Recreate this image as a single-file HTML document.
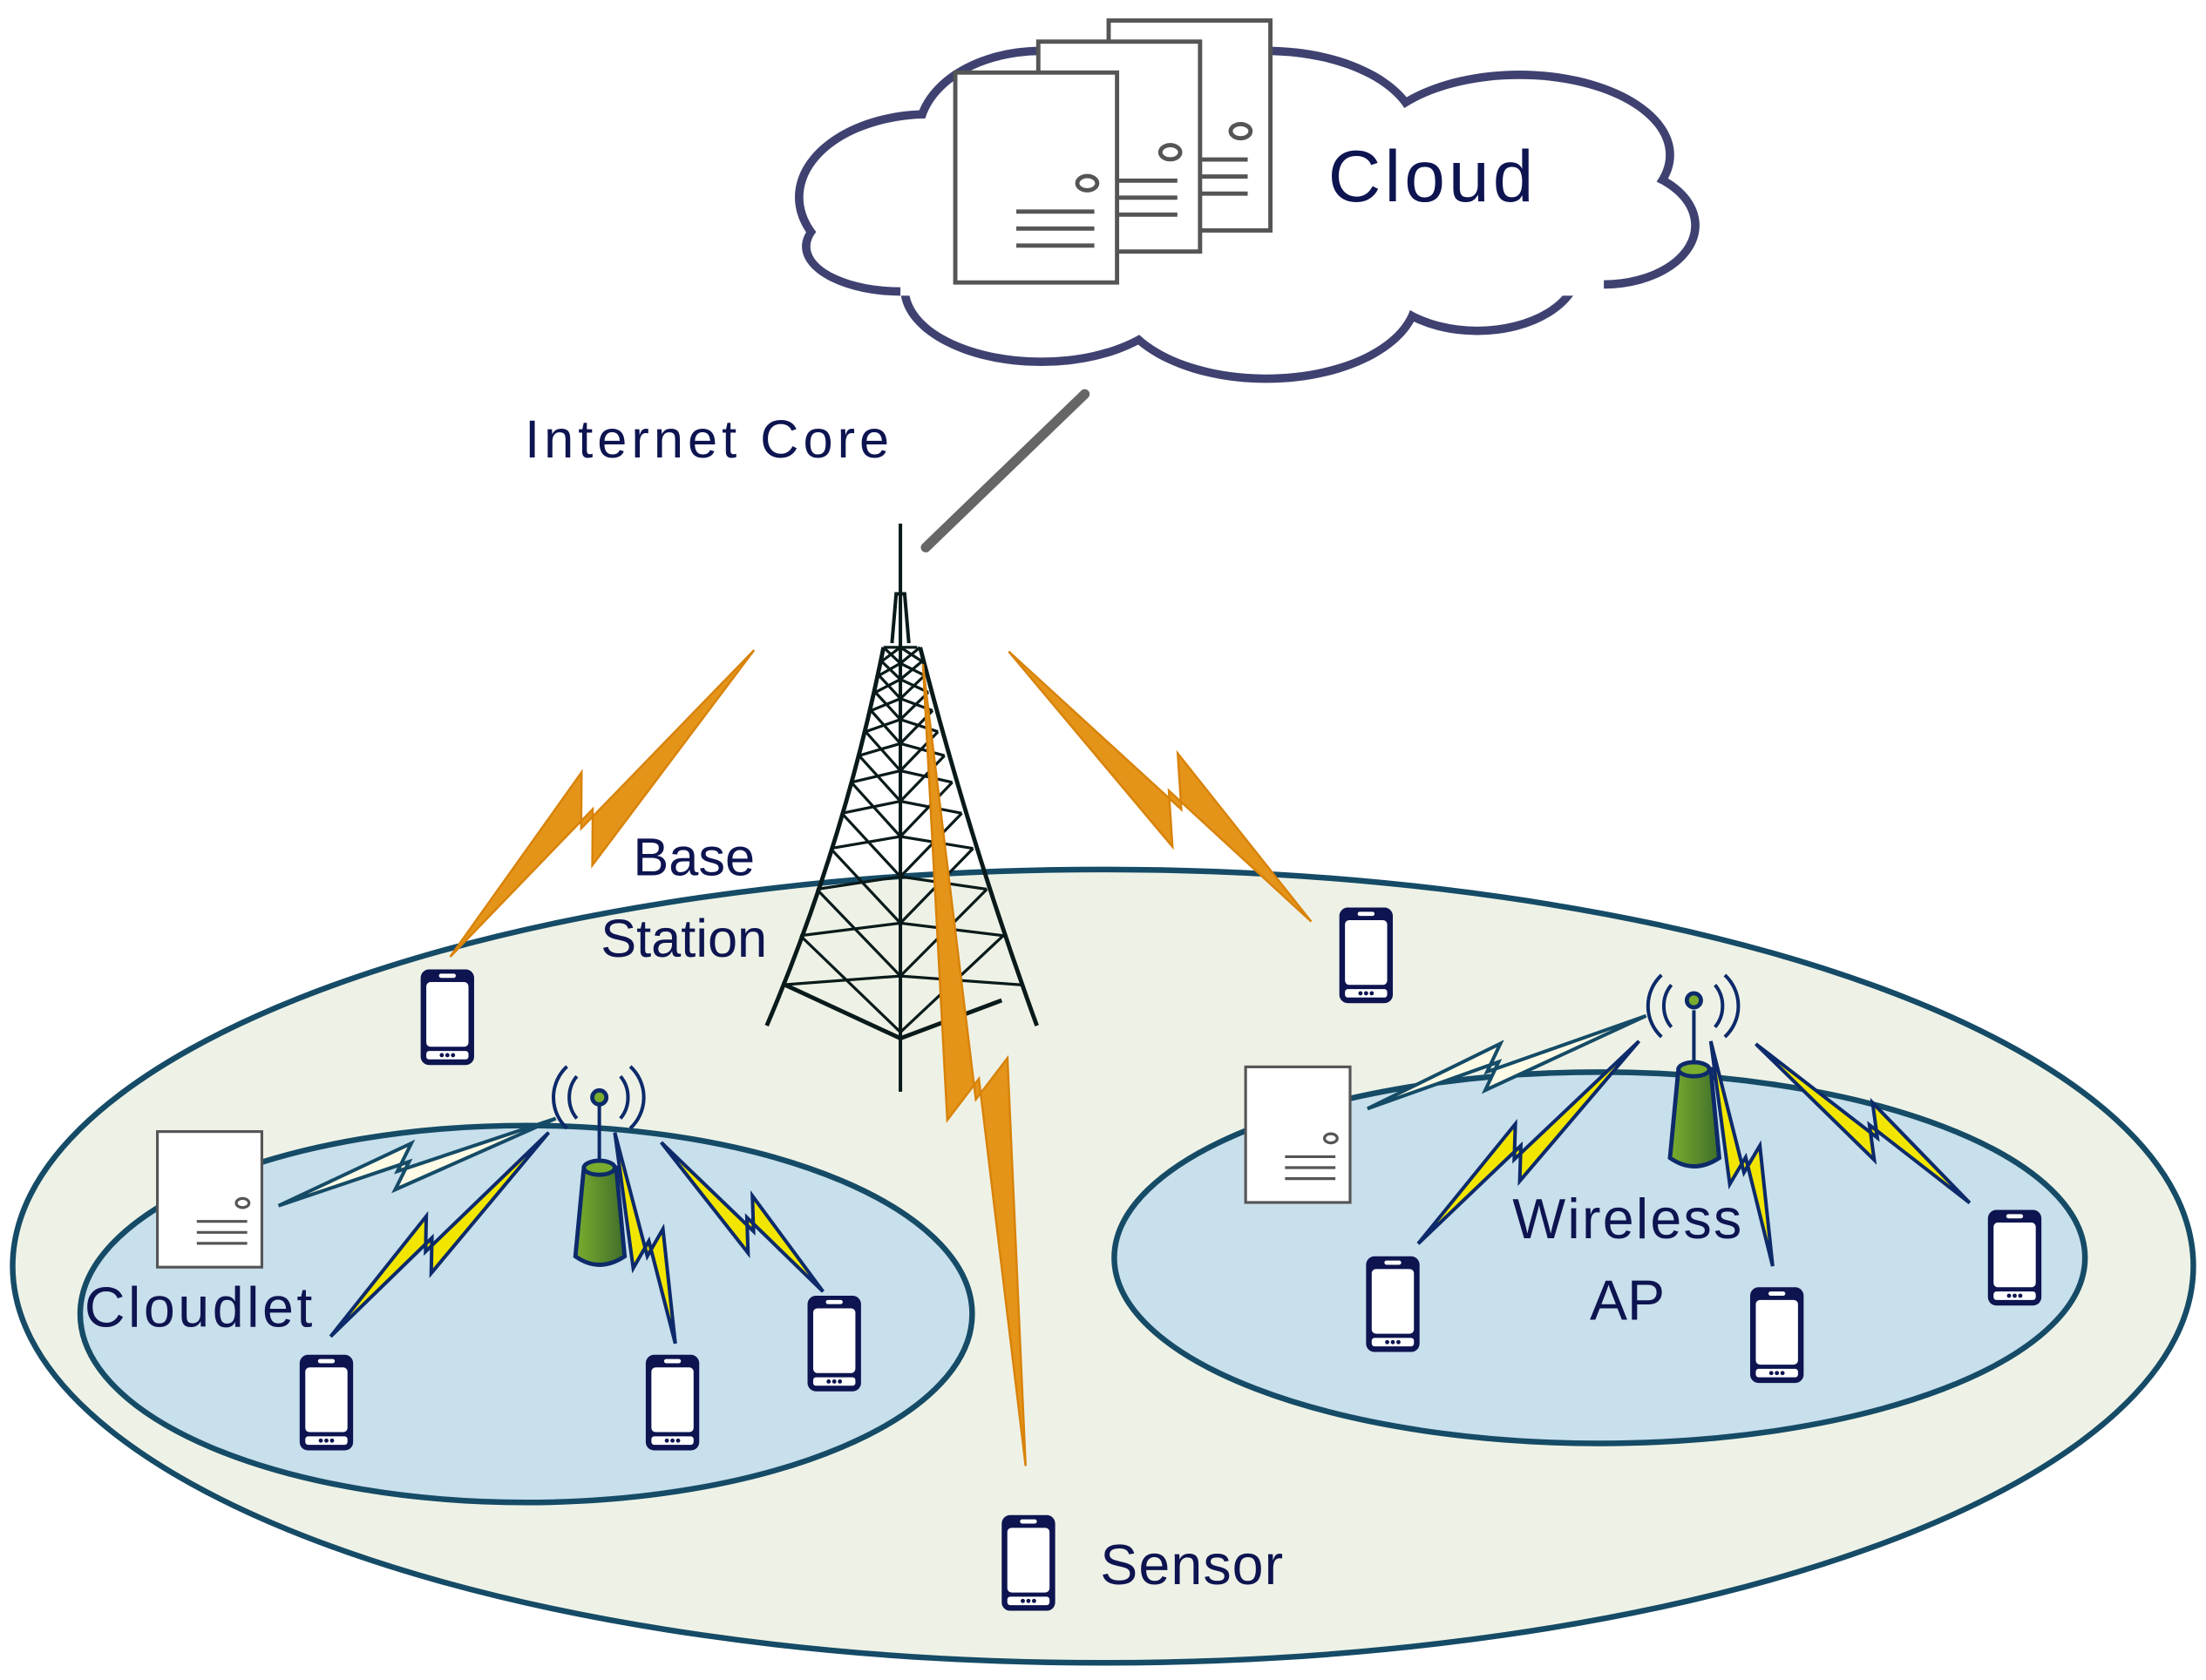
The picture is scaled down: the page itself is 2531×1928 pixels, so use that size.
<!DOCTYPE html>
<html><head><meta charset="utf-8"><style>
html,body{margin:0;padding:0;background:#fff;}
svg{display:block}
text{font-family:"Liberation Sans",sans-serif;fill:#0d1450}
</style></head><body>
<svg id="s" width="2531" height="1928" viewBox="0 0 1568 1194" xmlns="http://www.w3.org/2000/svg">
<defs>
<symbol id="ph" viewBox="0 0 42 72">
<rect x="2" y="2" width="38" height="68" rx="6" fill="#0d1450"/>
<rect x="6" y="11" width="30" height="46" rx="3" fill="#fff"/>
<rect x="15" y="5" width="12" height="3" rx="1.5" fill="#fff"/>
<rect x="6" y="60" width="30" height="6" rx="2" fill="#fff"/>
<circle cx="17" cy="63" r="1.5" fill="#0d1450"/><circle cx="21" cy="63" r="1.5" fill="#0d1450"/><circle cx="25" cy="63" r="1.5" fill="#0d1450"/>
</symbol>
<symbol id="sv" viewBox="0 0 118 152">
<rect x="2" y="2" width="114" height="148" fill="#fff" stroke="#555" stroke-width="3"/>
<ellipse cx="95" cy="80" rx="7" ry="5" fill="none" stroke="#555" stroke-width="3"/>
<line x1="45" y1="100" x2="100" y2="100" stroke="#555" stroke-width="3"/>
<line x1="45" y1="112" x2="100" y2="112" stroke="#555" stroke-width="3"/>
<line x1="45" y1="124" x2="100" y2="124" stroke="#555" stroke-width="3"/>
</symbol>
<linearGradient id="gr" x1="0" x2="1"><stop offset="0" stop-color="#7aad2e"/><stop offset="1" stop-color="#3f6e2a"/></linearGradient>
</defs>
<!-- cloud -->
<g fill="#3f4270">
<ellipse cx="660" cy="140" rx="95" ry="62"/><ellipse cx="740" cy="95" rx="90" ry="62"/><ellipse cx="900" cy="95" rx="110" ry="62"/>
<ellipse cx="1080" cy="110" rx="110" ry="60"/><ellipse cx="1140" cy="160" rx="68" ry="45"/><ellipse cx="1050" cy="190" rx="75" ry="48"/>
<ellipse cx="900" cy="210" rx="110" ry="62"/><ellipse cx="740" cy="205" rx="100" ry="55"/><ellipse cx="640" cy="175" rx="70" ry="35"/>
</g>
<g fill="#fff">
<ellipse cx="660" cy="140" rx="89" ry="56"/><ellipse cx="740" cy="95" rx="84" ry="56"/><ellipse cx="900" cy="95" rx="104" ry="56"/>
<ellipse cx="1080" cy="110" rx="104" ry="54"/><ellipse cx="1140" cy="160" rx="62" ry="39"/><ellipse cx="1050" cy="190" rx="69" ry="42"/>
<ellipse cx="900" cy="210" rx="104" ry="56"/><ellipse cx="740" cy="205" rx="94" ry="49"/><ellipse cx="640" cy="175" rx="64" ry="29"/>
<rect x="640" y="100" width="500" height="110"/>
</g>
<use href="#sv" x="786" y="12" width="119" height="154"/>
<use href="#sv" x="736" y="27" width="119" height="154"/>
<use href="#sv" x="677" y="49" width="119" height="154"/>
<text x="944" y="143" font-size="52" textLength="146">Cloud</text>
<text x="373" y="325" font-size="38" textLength="259">Internet Core</text>
<line x1="658" y1="389" x2="771" y2="280" stroke="#666" stroke-width="7" stroke-linecap="round"/>
<!-- ellipses -->
<ellipse cx="784" cy="900" rx="775" ry="282" fill="#eef2e6" stroke="#154b66" stroke-width="4"/>
<ellipse cx="374" cy="934" rx="317" ry="134" fill="#c8dfec" stroke="#154b66" stroke-width="4"/>
<ellipse cx="1137" cy="894" rx="345" ry="132" fill="#c8dfec" stroke="#154b66" stroke-width="4"/>
<!-- tower -->
<g stroke="#0a1a1a" fill="none" stroke-width="2">
<line x1="640" y1="372" x2="640" y2="776" stroke-width="2.5"/>
<path d="M634 457 L637 422 L643 422 L646 457" stroke-width="2.5"/>
<path d="M628 460 Q600 600 545 729" stroke-width="3"/>
<path d="M654 460 Q690 600 737 729" stroke-width="3"/>
<path d="M628 460 L652 460"/>
<g id="lat"></g>
<path d="M558 700 L640 738 L712 711" stroke-width="3"/>
</g>
<g id="bolts"></g>
<!-- APs -->
<g stroke="#0d2a6a" stroke-width="2.5" fill="none">
<path d="M410 765 a20 22 0 0 0 0 30 M403 758 a30 30 0 0 0 0 44 M441 765 a20 22 0 0 1 0 30 M448 758 a30 30 0 0 1 0 44"/>
<line x1="426" y1="785" x2="426" y2="828"/>
<path d="M1188 700 a20 22 0 0 0 0 30 M1181 693 a30 30 0 0 0 0 44 M1219 700 a20 22 0 0 1 0 30 M1226 693 a30 30 0 0 1 0 44"/>
<line x1="1204" y1="718" x2="1204" y2="760"/>
</g>
<g stroke="#0d2a6a" stroke-width="3">
<circle cx="426" cy="780" r="5" fill="#7aad2e"/>
<path d="M415 830 L409 893 Q426 905 444 893 L438 830 Z" fill="url(#gr)"/>
<ellipse cx="426" cy="830" rx="11" ry="5" fill="#7aad2e"/>
<circle cx="1204" cy="711" r="5" fill="#7aad2e"/>
<path d="M1193 760 L1187 823 Q1204 835 1222 823 L1216 760 Z" fill="url(#gr)"/>
<ellipse cx="1204" cy="760" rx="11" ry="5" fill="#7aad2e"/>
</g>
<g id="bolts2"></g>
<!-- servers -->
<use href="#sv" x="110" y="803" width="78" height="99"/>
<use href="#sv" x="884" y="757" width="77" height="99"/>
<!-- phones -->
<use href="#ph" x="297" y="687" width="42" height="72"/>
<use href="#ph" x="950" y="643" width="42" height="72"/>
<use href="#ph" x="211" y="961" width="42" height="72"/>
<use href="#ph" x="457" y="961" width="42" height="72"/>
<use href="#ph" x="572" y="919" width="42" height="72"/>
<use href="#ph" x="969" y="891" width="42" height="72"/>
<use href="#ph" x="1242" y="913" width="42" height="72"/>
<use href="#ph" x="1411" y="858" width="42" height="72"/>
<use href="#ph" x="710" y="1075" width="42" height="72"/>
<text x="450" y="622" font-size="38">Base</text>
<text x="427" y="680" font-size="38">Station</text>
<text x="60" y="943" font-size="40" textLength="162">Cloudlet</text>
<text x="1075" y="880" font-size="40" textLength="163">Wireless</text>
<text x="1130" y="938" font-size="40">AP</text>
<text x="782" y="1126" font-size="40" textLength="130">Sensor</text>
</svg>
<script>
var NS="http://www.w3.org/2000/svg";
function el(p,t,a){var e=document.createElementNS(NS,t);for(var k in a)e.setAttribute(k,a[k]);document.getElementById(p).appendChild(e);return e;}
(function(){
 function lx(y){var t=(y-460)/(729-460);return 628-(628-545)*Math.pow(t,1.25);}
 function rx(y){var t=(y-460)/(729-460);return 654+(737-654)*Math.pow(t,1.25);}
 var ys=[460,470,480,492,505,520,537,556,578,603,632,665,700];
 for(var i=0;i<ys.length-1;i++){var a=ys[i],b=ys[i+1];var ca=a+ (a-460)*0.14,cb=b+(b-460)*0.14;
  el("lat","path",{d:"M"+lx(a)+" "+a+" L640 "+cb+" L"+rx(a)+" "+a+" M"+lx(b)+" "+b+" L640 "+ca+" L"+rx(b)+" "+b});}
})();
function bolt(g,ax,ay,bx,by,w,fill,stroke,sw,flip,cf){
 var dx=bx-ax,dy=by-ay,L=Math.hypot(dx,dy),ux=dx/L,uy=dy/L,f=flip?-1:1,nx=-uy*f,ny=ux*f;
 var c=L*(cf||0.55),d=Math.max(5,w*0.3),k=w*1.1;
 var pts=[[0,0],[c+d,-2],[c+d-k,w],[L,0],[c-d,2],[c-d+k,-w]];
 var s=pts.map(function(p){return (ax+ux*p[0]+nx*p[1]).toFixed(1)+","+(ay+uy*p[0]+ny*p[1]).toFixed(1)}).join(" ");
 el(g,"polygon",{points:s,fill:fill,stroke:stroke,"stroke-width":sw,"stroke-linejoin":"miter"});
}
var O="#e39419",OS="#d8820a";
bolt("bolts",536,462,320,680,26,O,OS,1.5,false);
bolt("bolts",717,463,932,655,26,O,OS,1.5,true);
bolt("bolts",656,472,729,1042,24,O,OS,1.5,true,0.53);
var N="#0d2a6a",Y="#f2e600",T="#154b66";
bolt("bolts2",395,795,198,857,14,"#fdfbe6",T,2.5,false);
bolt("bolts2",390,805,235,950,16,Y,N,2.5,false);
bolt("bolts2",437,805,480,955,14,Y,N,2.5,true);
bolt("bolts2",470,812,585,918,16,Y,N,2.5,true);
bolt("bolts2",1170,722,972,788,14,"#fdfbe6",T,2.5,false);
bolt("bolts2",1165,740,1008,884,16,Y,N,2.5,false);
bolt("bolts2",1216,740,1260,900,14,Y,N,2.5,true);
bolt("bolts2",1248,742,1400,855,16,Y,N,2.5,true);
</script>
</body></html>
